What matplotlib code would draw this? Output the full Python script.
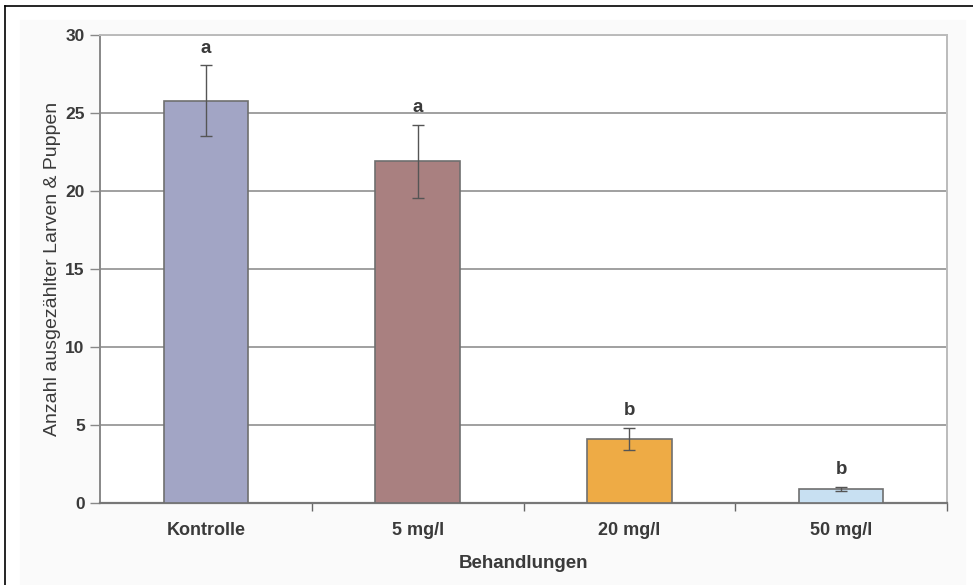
import numpy as np
import matplotlib
matplotlib.use('Agg')
import matplotlib.pyplot as plt
from matplotlib.lines import Line2D

plt.rcParams['font.family'] = ['Liberation Sans', 'DejaVu Sans']

categories = ['Kontrolle', '5 mg/l', '20 mg/l', '50 mg/l']
means = [25.8, 21.9, 4.1, 0.9]
errors = [2.25, 2.35, 0.7, 0.15]
letters = ['a', 'a', 'b', 'b']
colors = ['#a2a5c5', '#a98080', '#eeab45', '#c8e0f2']

TXT = '#3a3a3a'
GRID = '#a0a0a0'

fig = plt.figure(figsize=(9.73, 5.85), dpi=100)
fig.patch.set_facecolor('white')
# light panel background and image-crop border (left + top)
fig.add_artist(plt.Rectangle((20 / 973, 0), 945 / 973, 1 - 20 / 585,
                             transform=fig.transFigure, color='#fafafa', zorder=-5))
fig.add_artist(Line2D([5 / 973, 5 / 973], [0, 1 - 6 / 585], transform=fig.transFigure,
                      color='black', lw=1.2))
fig.add_artist(Line2D([5 / 973, 1], [1 - 6 / 585, 1 - 6 / 585], transform=fig.transFigure,
                      color='black', lw=1.2))

ax = fig.add_axes([100 / 973, 82 / 585, 847 / 973, 468 / 585])
ax.set_facecolor('white')
x = np.arange(len(categories))
ax.bar(x, means, width=0.4, color=colors, edgecolor='#6f6f6f', linewidth=1.2, zorder=3)
ax.errorbar(x, means, yerr=errors, fmt='none', ecolor='#555555', elinewidth=1,
            capsize=4, capthick=1, zorder=4)
for xi, m, e, l in zip(x, means, errors, letters):
    ax.text(xi, m + e + 1.1, l, ha='center', va='center', fontsize=13.5,
            fontweight='bold', color=TXT)

ax.set_xlim(-0.5, 3.5)
ax.set_ylim(0, 30)
ax.set_yticks(range(0, 31, 5))
ax.yaxis.grid(True, color=GRID, lw=1.4, zorder=0)
ax.set_axisbelow(True)

ax.set_xticks(x)
ax.set_xticklabels(categories, fontsize=13, fontweight='bold', color=TXT)
ax.tick_params(axis='x', length=0, pad=14)
ax.set_xticks([0.5, 1.5, 2.5, 3.5], minor=True)
ax.tick_params(axis='x', which='minor', length=6, color='#666666', width=1)
ax.tick_params(axis='y', length=7, color='#888888', width=1, labelsize=12.5,
               labelcolor=TXT, pad=4)
for lbl in ax.get_yticklabels():
    lbl.set_fontweight('bold')

ax.spines['left'].set_color('#888888')
ax.spines['left'].set_linewidth(1.4)
ax.spines['bottom'].set_color('#777777')
ax.spines['bottom'].set_linewidth(1.6)
ax.spines['top'].set_color('#bbbbbb')
ax.spines['top'].set_linewidth(1.4)
ax.spines['right'].set_color('#bbbbbb')
ax.spines['right'].set_linewidth(1.4)

ax.set_ylabel('Anzahl ausgezählter Larven & Puppen', fontsize=14, color=TXT, labelpad=3)
ax.set_xlabel('Behandlungen', fontsize=13.5, fontweight='bold', color=TXT, labelpad=11)

fig.savefig('out.png', dpi=100)
